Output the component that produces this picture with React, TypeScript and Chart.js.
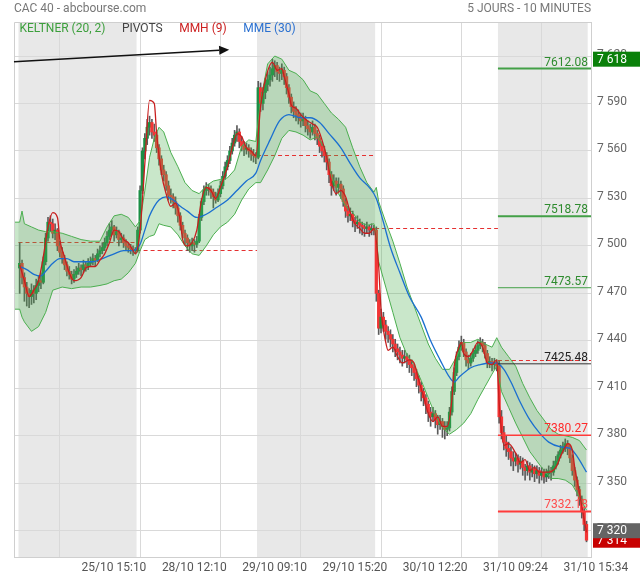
import React, { useEffect, useRef } from 'react';
import { Chart, registerables } from 'chart.js';

Chart.register(...registerables);

// ---------- candles (10-minute bars, 25/10 -> 31/10) ----------
const opens = [
  7486, 7489, 7480, 7474, 7470, 7468, 7472, 7470, 7475, 7478, 7477, 7490, 7505, 7515, 7514, 7508, 7510, 7500, 7496, 7492, 7488, 7484, 7482, 7479, 7482, 7484, 7486, 7485, 7488, 7487, 7489, 7490, 7492, 7491, 7495, 7497, 7499, 7502, 7506, 7510, 7512, 7507, 7509, 7504, 7505, 7502, 7500, 7499, 7498, 7497,
  7497, 7510, 7535, 7560, 7568, 7575, 7578, 7572, 7570, 7562, 7555, 7548, 7545, 7538, 7532, 7531, 7528, 7524, 7519, 7513, 7508, 7505, 7502, 7500, 7502, 7501, 7503, 7518, 7528, 7535, 7537, 7536, 7534, 7531, 7529, 7533, 7538, 7544, 7550, 7554, 7560, 7565, 7570, 7572, 7566, 7563, 7561, 7562, 7560, 7558, 7557,
  7556, 7600, 7590, 7597, 7602, 7605, 7608, 7612, 7614, 7610, 7609, 7611, 7607, 7600, 7594, 7588, 7585, 7583, 7581, 7579, 7580, 7576, 7574, 7572, 7575, 7571, 7568, 7563, 7560, 7557, 7553, 7545, 7538, 7541, 7537, 7539, 7536, 7528, 7522, 7519, 7520, 7516, 7514, 7515, 7513, 7512, 7511, 7512, 7510, 7511,
  7510, 7470, 7448, 7455, 7450, 7446, 7444, 7441, 7438, 7435, 7433, 7431, 7429, 7430, 7428, 7425, 7423, 7420, 7416, 7412, 7408, 7404, 7400, 7395, 7392, 7394, 7390, 7387, 7389, 7386, 7384, 7385, 7395, 7408, 7420, 7430, 7436, 7439, 7433, 7428, 7426, 7429, 7432, 7434, 7437, 7439, 7437, 7432, 7426, 7427, 7425, 7426,
  7424, 7392, 7382, 7376, 7372, 7370, 7366, 7364, 7366, 7362, 7364, 7360, 7358, 7361, 7357, 7359, 7356, 7358, 7355, 7357, 7354, 7356, 7358, 7357, 7361, 7364, 7368, 7371, 7373, 7375, 7372, 7366, 7358, 7352, 7346, 7340, 7332, 7324,
];
const highs = [
  7502, 7491, 7483, 7477, 7473, 7476, 7475, 7479, 7481, 7483, 7493, 7508, 7518, 7519, 7517, 7514, 7511, 7503, 7499, 7494, 7490, 7487, 7484, 7485, 7487, 7489, 7488, 7491, 7490, 7492, 7493, 7495, 7494, 7498, 7500, 7502, 7505, 7509, 7514, 7516, 7513, 7512, 7510, 7508, 7507, 7504, 7502, 7501, 7500, 7499,
  7512, 7538, 7562, 7571, 7580, 7582, 7580, 7577, 7572, 7564, 7557, 7551, 7547, 7541, 7536, 7533, 7531, 7526, 7521, 7515, 7510, 7507, 7504, 7505, 7504, 7506, 7520, 7530, 7538, 7540, 7539, 7538, 7536, 7534, 7536, 7541, 7547, 7553, 7557, 7563, 7568, 7573, 7576, 7574, 7569, 7566, 7565, 7564, 7562, 7561, 7559,
  7604, 7603, 7600, 7606, 7610, 7613, 7618, 7617, 7616, 7613, 7615, 7613, 7609, 7602, 7596, 7591, 7588, 7586, 7584, 7584, 7582, 7579, 7577, 7579, 7577, 7573, 7570, 7566, 7563, 7559, 7555, 7547, 7545, 7543, 7543, 7541, 7538, 7530, 7525, 7524, 7522, 7518, 7519, 7517, 7515, 7514, 7515, 7513, 7514, 7513,
  7512, 7472, 7460, 7458, 7453, 7449, 7447, 7444, 7441, 7438, 7436, 7434, 7434, 7432, 7431, 7428, 7425, 7422, 7418, 7414, 7410, 7406, 7402, 7398, 7398, 7396, 7393, 7393, 7391, 7389, 7389, 7398, 7411, 7423, 7433, 7440, 7443, 7441, 7435, 7431, 7432, 7435, 7437, 7440, 7442, 7441, 7439, 7434, 7430, 7429, 7429, 7428,
  7427, 7396, 7386, 7380, 7376, 7373, 7370, 7369, 7368, 7367, 7366, 7362, 7364, 7363, 7362, 7361, 7361, 7360, 7360, 7359, 7359, 7361, 7360, 7364, 7367, 7370, 7374, 7376, 7378, 7377, 7374, 7368, 7360, 7354, 7348, 7342, 7334, 7326,
];
const lows = [
  7470, 7476, 7465, 7462, 7461, 7463, 7464, 7466, 7471, 7473, 7476, 7488, 7503, 7509, 7505, 7504, 7497, 7493, 7489, 7485, 7481, 7479, 7476, 7477, 7480, 7482, 7481, 7483, 7484, 7485, 7487, 7488, 7487, 7490, 7493, 7495, 7497, 7500, 7504, 7507, 7503, 7505, 7500, 7502, 7499, 7497, 7496, 7495, 7494, 7495,
  7496, 7508, 7533, 7555, 7564, 7570, 7568, 7566, 7559, 7551, 7545, 7541, 7535, 7529, 7527, 7524, 7520, 7515, 7510, 7505, 7501, 7497, 7496, 7497, 7496, 7499, 7502, 7516, 7526, 7532, 7532, 7530, 7524, 7527, 7528, 7531, 7536, 7542, 7548, 7552, 7558, 7563, 7566, 7562, 7560, 7557, 7558, 7556, 7554, 7553, 7552,
  7555, 7585, 7586, 7593, 7598, 7601, 7604, 7607, 7605, 7604, 7605, 7602, 7596, 7590, 7584, 7581, 7579, 7577, 7575, 7576, 7572, 7570, 7568, 7570, 7567, 7564, 7559, 7556, 7553, 7548, 7540, 7532, 7535, 7532, 7534, 7530, 7525, 7518, 7515, 7516, 7512, 7509, 7511, 7508, 7507, 7506, 7508, 7506, 7507, 7507,
  7465, 7444, 7445, 7446, 7441, 7439, 7436, 7433, 7430, 7428, 7426, 7424, 7426, 7423, 7420, 7418, 7415, 7411, 7407, 7402, 7399, 7394, 7389, 7386, 7389, 7385, 7381, 7384, 7379, 7378, 7380, 7383, 7393, 7406, 7418, 7428, 7434, 7430, 7424, 7422, 7424, 7427, 7430, 7432, 7435, 7433, 7429, 7423, 7423, 7421, 7422, 7421,
  7388, 7378, 7371, 7367, 7365, 7361, 7358, 7361, 7357, 7359, 7355, 7352, 7355, 7352, 7354, 7351, 7353, 7350, 7352, 7350, 7351, 7353, 7352, 7355, 7359, 7362, 7366, 7369, 7370, 7368, 7363, 7355, 7348, 7342, 7336, 7328, 7320, 7313,
];
const closes = [
  7489, 7480, 7474, 7470, 7468, 7472, 7470, 7475, 7478, 7477, 7490, 7505, 7515, 7514, 7508, 7510, 7500, 7496, 7492, 7488, 7484, 7482, 7479, 7482, 7484, 7486, 7485, 7488, 7487, 7489, 7490, 7492, 7491, 7495, 7497, 7499, 7502, 7506, 7510, 7512, 7507, 7509, 7504, 7505, 7502, 7500, 7499, 7498, 7497, 7497,
  7510, 7535, 7560, 7568, 7575, 7578, 7572, 7570, 7562, 7555, 7548, 7545, 7538, 7532, 7531, 7528, 7524, 7519, 7513, 7508, 7505, 7502, 7500, 7502, 7501, 7503, 7518, 7528, 7535, 7537, 7536, 7534, 7531, 7529, 7533, 7538, 7544, 7550, 7554, 7560, 7565, 7570, 7572, 7566, 7563, 7561, 7562, 7560, 7558, 7557, 7556,
  7600, 7590, 7597, 7602, 7605, 7608, 7612, 7614, 7610, 7609, 7611, 7607, 7600, 7594, 7588, 7585, 7583, 7581, 7579, 7580, 7576, 7574, 7572, 7575, 7571, 7568, 7563, 7560, 7557, 7553, 7545, 7538, 7541, 7537, 7539, 7536, 7528, 7522, 7519, 7520, 7516, 7514, 7515, 7513, 7512, 7511, 7512, 7510, 7511, 7510,
  7470, 7448, 7455, 7450, 7446, 7444, 7441, 7438, 7435, 7433, 7431, 7429, 7430, 7428, 7425, 7423, 7420, 7416, 7412, 7408, 7404, 7400, 7395, 7392, 7394, 7390, 7387, 7389, 7386, 7384, 7385, 7395, 7408, 7420, 7430, 7436, 7439, 7433, 7428, 7426, 7429, 7432, 7434, 7437, 7439, 7437, 7432, 7426, 7427, 7425, 7426, 7424,
  7392, 7382, 7376, 7372, 7370, 7366, 7364, 7366, 7362, 7364, 7360, 7358, 7361, 7357, 7359, 7356, 7358, 7355, 7357, 7354, 7356, 7358, 7357, 7361, 7364, 7368, 7371, 7373, 7375, 7372, 7366, 7358, 7352, 7346, 7340, 7332, 7324, 7314,
];

// ---------- axes ----------
const xTickIdx = [34, 68, 102, 136, 170, 204, 238];
const xTickLabels = ['25/10 15:10', '28/10 12:10', '29/10 09:10', '29/10 15:20', '30/10 12:20', '31/10 09:24', '31/10 15:34'];
const yTickValues = [7320, 7350, 7380, 7410, 7440, 7470, 7500, 7530, 7560, 7590, 7620];
const xMin = -2.4;
const xMax = 241.9;
const yMin = 7303.4;
const yMax = 7641.5;

// ---------- sessions & pivots ----------
const dayStart = [0, 50, 101, 151, 203];
const dayEnd = [49, 100, 150, 202, 240];
const shadedDays = [0, 2, 4];
const pivotValues = [7502.6, 7497.3, 7557.3, 7511.2, 7428];

// ---------- Keltner (20, 2) ----------
const kcIdx = [-2, 0, 1, 2, 5, 8, 11, 14, 18, 22, 26, 30, 34, 37, 40, 43, 46, 49, 51, 53, 55, 57, 59, 61, 64, 67, 70, 73, 76, 79, 82, 85, 88, 91, 94, 97, 100, 102, 105, 108, 111, 114, 117, 120, 123, 126, 129, 132, 135, 138, 141, 144, 147, 150, 151, 152, 155, 158, 161, 164, 167, 170, 173, 176, 179, 182, 185, 188, 191, 194, 197, 200, 202, 204, 207, 210, 213, 216, 219, 222, 225, 228, 231, 234, 237, 240];
const kcUpper = [7515, 7515, 7522, 7514, 7512, 7510, 7509, 7509, 7508, 7506, 7504, 7503, 7503, 7512, 7519, 7520, 7518, 7512, 7516, 7535, 7556, 7568, 7575, 7572, 7559, 7550, 7540, 7535, 7533, 7538, 7541, 7542, 7543, 7548, 7563, 7567, 7566, 7592, 7615, 7620, 7618, 7611, 7609, 7605, 7598, 7596, 7590, 7584, 7580, 7575, 7562, 7550, 7540, 7534, 7537, 7528, 7515, 7503, 7489, 7474, 7462, 7450, 7438, 7429, 7422, 7422, 7430, 7439, 7439, 7441, 7438, 7436, 7442, 7436, 7430, 7424, 7413, 7404, 7396, 7390, 7384, 7381, 7380, 7379, 7377, 7371];
const kcLower = [7460, 7460, 7455, 7452, 7446, 7449, 7458, 7472, 7474, 7473, 7474, 7474, 7475, 7476, 7478, 7479, 7483, 7489, 7497, 7504, 7506, 7507, 7514, 7513, 7512, 7507, 7500, 7495, 7494, 7500, 7507, 7512, 7515, 7520, 7529, 7536, 7540, 7540, 7548, 7557, 7568, 7573, 7572, 7570, 7567, 7569, 7562, 7544, 7533, 7525, 7521, 7515, 7513, 7514, 7504, 7490, 7474, 7458, 7442, 7431, 7425, 7415, 7404, 7393, 7385, 7381, 7384, 7388, 7394, 7403, 7411, 7419, 7424, 7408, 7398, 7388, 7379, 7370, 7364, 7358, 7353, 7353, 7352, 7349, 7341, 7333];

// ---------- MME (30) ----------
const mmeIdx = [0, 3, 6, 9, 11, 14, 17, 20, 23, 27, 31, 35, 40, 44, 48, 50, 51, 53, 55, 57, 59, 62, 65, 68, 71, 75, 79, 83, 88, 92, 96, 100, 102, 106, 110, 114, 119, 123, 127, 131, 136, 140, 144, 148, 151, 154, 157, 161, 165, 170, 174, 178, 182, 184, 186, 191, 195, 199, 202, 205, 208, 212, 216, 220, 224, 229, 233, 236, 240];
const mmeValues = [7487, 7485, 7482, 7481, 7484, 7489, 7492, 7492, 7490, 7490, 7490, 7492, 7495, 7497, 7497, 7499, 7501, 7510, 7519, 7525, 7529, 7531, 7529, 7525, 7522, 7518, 7520, 7524, 7529, 7535, 7541, 7546, 7554, 7567, 7579, 7583, 7581, 7581, 7578, 7571, 7562, 7552, 7543, 7537, 7530, 7515, 7499, 7483, 7468, 7455, 7440, 7428, 7417, 7414, 7417, 7423, 7425, 7426, 7426, 7422, 7414, 7401, 7390, 7382, 7376, 7373, 7372, 7367, 7357];

// ---------- MMH (9) ----------
const mmhIdx = [0, 2, 4, 6, 8, 10, 12, 14, 16, 17, 19, 21, 23, 26, 28, 30, 32, 34, 36, 38, 40, 42, 44, 46, 48, 49, 51, 53, 55, 57, 58, 60, 62, 64, 66, 68, 69, 71, 73, 75, 77, 79, 81, 83, 85, 88, 90, 92, 94, 96, 98, 100, 102, 104, 107, 109, 111, 112, 114, 115, 117, 119, 121, 124, 126, 128, 130, 132, 134, 136, 138, 140, 142, 144, 146, 148, 150, 152, 153, 155, 156, 158, 160, 162, 165, 167, 169, 171, 173, 175, 177, 179, 181, 183, 184, 186, 187, 188, 190, 192, 194, 196, 198, 200, 202, 203, 205, 207, 210, 212, 214, 216, 218, 220, 222, 224, 227, 229, 231, 232, 234, 235, 237, 239, 240];
const mmhValues = [7488, 7478, 7468, 7472, 7478, 7493, 7512, 7521, 7518, 7504, 7493, 7483, 7478, 7480, 7486, 7487, 7487, 7491, 7495, 7502, 7510, 7509, 7504, 7502, 7497, 7495, 7510, 7552, 7592, 7590, 7571, 7546, 7533, 7525, 7527, 7516, 7504, 7500, 7502, 7510, 7529, 7537, 7535, 7530, 7537, 7550, 7562, 7571, 7569, 7562, 7560, 7557, 7588, 7605, 7616, 7611, 7612, 7607, 7596, 7589, 7587, 7583, 7580, 7577, 7575, 7567, 7556, 7540, 7533, 7535, 7531, 7521, 7514, 7511, 7508, 7508, 7511, 7487, 7460, 7439, 7434, 7436, 7430, 7426, 7428, 7426, 7415, 7405, 7394, 7389, 7392, 7386, 7386, 7403, 7424, 7436, 7439, 7432, 7430, 7434, 7439, 7436, 7426, 7425, 7428, 7401, 7374, 7375, 7369, 7363, 7365, 7358, 7360, 7357, 7357, 7357, 7360, 7367, 7373, 7375, 7371, 7360, 7344, 7327, 7319];

// ---------- levels of the last session ----------
const levelValues = [7612.08, 7518.78, 7473.57, 7425.48, 7380.27, 7332.18];
const levelColors = ['#43a047', '#43a047', '#43a047', '#333333', '#ff3b3b', '#ff3b3b'];
const levelTextColors = ['#2e8b2e', '#2e8b2e', '#2e8b2e', '#222222', '#ff2a2a', '#ff4a4a'];
const levelWidths = [2, 2, 1, 1, 1.5, 2];
const markerValue = 7320;

// ---------- trend arrow (time index, price) ----------
const arrowX = [-2.4, 88.7];
const arrowY = [7616.4, 7624];

const legendItems = ['KELTNER (20, 2)', 'PIVOTS', 'MMH (9)', 'MME (30)'];
const legendColors = ['#3c9f3c', '#444444', '#cc2020', '#2a70d0'];

const FONT = 'Roboto, "Noto Sans", sans-serif';

const fmtPrice = (v: number) => {
  const r = Math.round(v);
  return Math.floor(r / 1000) + ' ' + String(r % 1000).padStart(3, '0');
};

const overlayPlugin = {
  id: 'overlay',
  beforeDraw(chart: any) {
    const { ctx, chartArea: a, scales } = chart;
    const xs = scales.x;
    ctx.save();
    ctx.fillStyle = '#ffffff';
    ctx.fillRect(0, 0, chart.width, chart.height);
    ctx.fillStyle = '#e8e8e8';
    shadedDays.forEach((d) => {
      const x0 = Math.max(xs.getPixelForValue(dayStart[d] - 0.5), a.left);
      const x1 = Math.min(xs.getPixelForValue(dayEnd[d] + 0.5), a.right);
      ctx.fillRect(x0, a.top, x1 - x0, a.bottom - a.top);
    });
    ctx.restore();
  },
  beforeDatasetsDraw(chart: any) {
    const { ctx, chartArea: a, scales } = chart;
    const xs = scales.x;
    const ys = scales.y;
    ctx.save();
    ctx.strokeStyle = '#e53030';
    ctx.lineWidth = 1;
    ctx.setLineDash([4, 3]);
    pivotValues.forEach((v, d) => {
      const x0 = Math.max(xs.getPixelForValue(dayStart[d] - 0.5), a.left);
      const x1 = d === pivotValues.length - 1 ? a.right : xs.getPixelForValue(dayEnd[d] + 0.5);
      const yy = Math.round(ys.getPixelForValue(v)) + 0.5;
      ctx.beginPath();
      ctx.moveTo(x0, yy);
      ctx.lineTo(x1, yy);
      ctx.stroke();
    });
    ctx.restore();
  },
  afterDatasetsDraw(chart: any) {
    const { ctx, chartArea: a, scales } = chart;
    const xs = scales.x;
    const ys = scales.y;
    ctx.save();
    // frame (left & top)
    ctx.strokeStyle = '#cfcfcf';
    ctx.lineWidth = 1;
    ctx.beginPath();
    ctx.moveTo(a.left + 0.5, a.bottom);
    ctx.lineTo(a.left + 0.5, a.top + 0.5);
    ctx.lineTo(a.right, a.top + 0.5);
    ctx.stroke();

    // levels
    const lx0 = xs.getPixelForValue(dayStart[dayStart.length - 1] - 0.5);
    ctx.font = `12px ${FONT}`;
    levelValues.forEach((v, k) => {
      const yy = ys.getPixelForValue(v);
      ctx.strokeStyle = levelColors[k];
      ctx.lineWidth = levelWidths[k];
      ctx.beginPath();
      ctx.moveTo(lx0, yy);
      ctx.lineTo(a.right, yy);
      ctx.stroke();
      ctx.fillStyle = levelTextColors[k];
      ctx.textAlign = 'right';
      ctx.textBaseline = 'alphabetic';
      ctx.fillText(v.toFixed(2), a.right - 3, yy - 3);
    });

    // arrow
    const p0x = xs.getPixelForValue(arrowX[0]);
    const p0y = ys.getPixelForValue(arrowY[0]);
    const p1x = xs.getPixelForValue(arrowX[1]);
    const p1y = ys.getPixelForValue(arrowY[1]);
    const ang = Math.atan2(p1y - p0y, p1x - p0x);
    const hl = 10;
    const hw = 4.5;
    const bx = p1x - hl * Math.cos(ang);
    const by = p1y - hl * Math.sin(ang);
    ctx.strokeStyle = '#111';
    ctx.lineWidth = 1.5;
    ctx.beginPath();
    ctx.moveTo(p0x, p0y);
    ctx.lineTo(bx, by);
    ctx.stroke();
    ctx.fillStyle = '#111';
    ctx.beginPath();
    ctx.moveTo(p1x, p1y);
    ctx.lineTo(bx + hw * Math.sin(ang), by - hw * Math.cos(ang));
    ctx.lineTo(bx - hw * Math.sin(ang), by + hw * Math.cos(ang));
    ctx.closePath();
    ctx.fill();

    // legend
    ctx.font = `12px ${FONT}`;
    ctx.textAlign = 'left';
    ctx.textBaseline = 'middle';
    let lx = a.left + 5.5;
    legendItems.forEach((t, k) => {
      ctx.fillStyle = legendColors[k];
      ctx.fillText(t, lx, a.top + 7);
      lx += ctx.measureText(t).width + 16.5;
    });
    ctx.restore();
  },
  afterDraw(chart: any) {
    const { ctx, chartArea: a, scales } = chart;
    const ys = scales.y;
    ctx.save();
    ctx.font = `12px ${FONT}`;
    ctx.textBaseline = 'middle';
    ctx.fillStyle = '#777';
    ctx.textAlign = 'left';
    ctx.fillText('CAC 40 - abcbourse.com', 14, 9);
    ctx.textAlign = 'right';
    ctx.fillText('5 JOURS - 10 MINUTES', a.right, 9);

    const drawBox = (v: number, color: string) => {
      const yy = ys.getPixelForValue(v);
      ctx.fillStyle = color;
      ctx.fillRect(a.right + 2, yy - 7.5, chart.width - a.right - 2, 15);
      ctx.fillStyle = '#fff';
      ctx.textAlign = 'left';
      ctx.textBaseline = 'middle';
      ctx.fillText(fmtPrice(v), a.right + 6, yy + 0.5);
    };
    drawBox(closes[closes.length - 1], '#c80000');
    drawBox(markerValue, '#646464');
    drawBox(Math.max(...highs), '#0a800a');
    ctx.restore();
  },
};

export default function App() {
  const ref = useRef<HTMLCanvasElement | null>(null);

  useEffect(() => {
    if (!ref.current) return;
    Chart.defaults.font.family = FONT;
    Chart.defaults.font.size = 12;

    const up = '#1b8f45';
    const down = '#f23535';
    const wickData = closes.map((_, i) => ({ x: i, y: [lows[i], highs[i]] }));
    const bodyData = closes.map((c, i) => ({ x: i, y: [opens[i], c] }));
    const bodyColors = closes.map((c, i) => (c >= opens[i] ? up : down));
    const pts = (xs: number[], vs: number[]) => xs.map((x, k) => ({ x, y: vs[k] }));

    const chart = new Chart(ref.current, {
      type: 'line',
      data: {
        datasets: [
          {
            type: 'bar',
            label: 'wicks',
            data: wickData as any,
            backgroundColor: '#5a5a5a',
            barThickness: 1,
            grouped: false,
            borderWidth: 0,
            order: 6,
          } as any,
          {
            type: 'bar',
            label: 'bodies',
            data: bodyData as any,
            backgroundColor: bodyColors,
            barThickness: 2.6,
            grouped: false,
            borderWidth: 0,
            minBarLength: 1,
            order: 5,
          } as any,
          {
            type: 'line',
            label: 'Keltner haut',
            data: pts(kcIdx, kcUpper),
            borderColor: '#4caf50',
            borderWidth: 1,
            pointRadius: 0,
            tension: 0,
            fill: '+1',
            backgroundColor: 'rgba(76,175,80,0.3)',
            order: 4,
          },
          {
            type: 'line',
            label: 'Keltner bas',
            data: pts(kcIdx, kcLower),
            borderColor: '#4caf50',
            borderWidth: 1,
            pointRadius: 0,
            tension: 0,
            fill: false,
            order: 4,
          },
          {
            type: 'line',
            label: 'MME (30)',
            data: pts(mmeIdx, mmeValues),
            borderColor: '#1a6fd0',
            borderWidth: 1.3,
            pointRadius: 0,
            cubicInterpolationMode: 'monotone',
            fill: false,
            order: 3,
          },
          {
            type: 'line',
            label: 'MMH (9)',
            data: pts(mmhIdx, mmhValues),
            borderColor: '#c81e1e',
            borderWidth: 1.3,
            pointRadius: 0,
            cubicInterpolationMode: 'monotone',
            fill: false,
            order: 2,
          },
        ],
      },
      options: {
        responsive: false,
        animation: false,
        devicePixelRatio: 1,
        events: [],
        layout: { padding: { top: 22, left: 14, right: 0, bottom: 0 } },
        plugins: { legend: { display: false }, tooltip: { enabled: false }, title: { display: false } },
        scales: {
          x: {
            type: 'linear',
            min: xMin,
            max: xMax,
            offset: false,
            afterBuildTicks: (s: any) => {
              s.ticks = xTickIdx.map((v) => ({ value: v }));
            },
            afterFit: (s: any) => {
              s.height = 23;
            },
            grid: { color: '#d9d9d9', drawTicks: false },
            border: { display: true, color: '#cfcfcf' },
            ticks: {
              autoSkip: false,
              maxRotation: 0,
              minRotation: 0,
              labelOffset: 14,
              padding: 4,
              color: '#555',
              font: { size: 12, family: FONT },
              callback: (v: any) => {
                const k = xTickIdx.indexOf(Number(v));
                return k >= 0 ? xTickLabels[k] : '';
              },
            },
          },
          y: {
            type: 'linear',
            position: 'right',
            min: yMin,
            max: yMax,
            afterBuildTicks: (s: any) => {
              s.ticks = yTickValues.map((v) => ({ value: v }));
            },
            afterFit: (s: any) => {
              s.width = 49;
            },
            grid: { color: '#d9d9d9', drawTicks: false },
            border: { display: true, color: '#cfcfcf' },
            ticks: {
              padding: 6,
              labelOffset: -1.5,
              color: '#666',
              font: { size: 12, family: FONT },
              callback: (v: any) => fmtPrice(Number(v)),
            },
          },
        },
      } as any,
      plugins: [overlayPlugin],
    } as any);

    return () => chart.destroy();
  }, []);

  return (
    <div style={{ position: 'absolute', left: 0, top: 0, width: 640, height: 580, background: '#fff' }}>
      <canvas ref={ref} width={640} height={580} style={{ width: 640, height: 580, display: 'block' }} />
    </div>
  );
}
